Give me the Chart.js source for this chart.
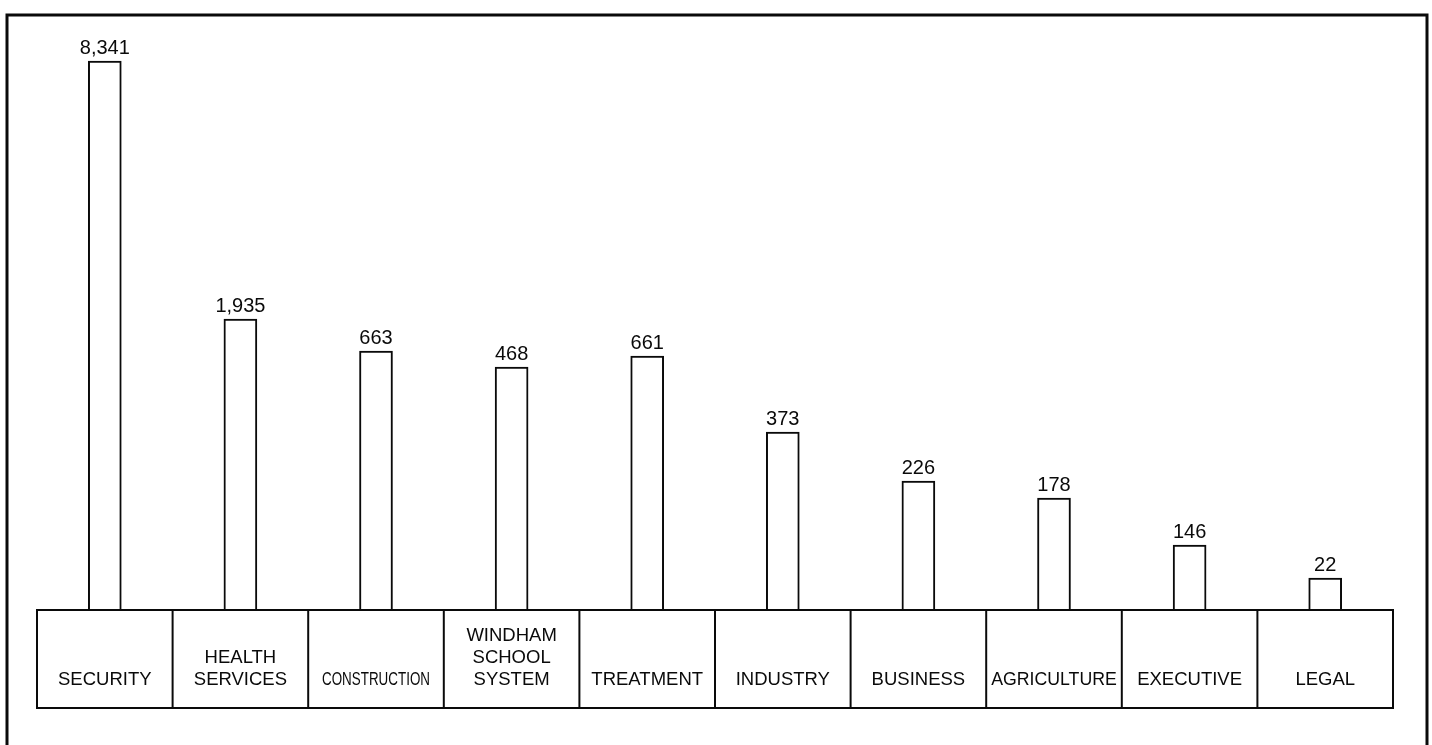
<!DOCTYPE html>
<html lang="en">
<head>
    <meta charset="UTF-8">
    <title>Inmate Job Assignments</title>
    <script src="https://cdn.jsdelivr.net/npm/chart.js"></script>
    <style>
        html, body {
            margin: 0;
            padding: 0;
            background-color: #fff;
        }
        #chartBox {
            width: 1432px;
            height: 745px;
        }
    </style>
</head>
<body>
    <div id="chartBox">
        <canvas id="myChart"></canvas>
    </div>

    <script>
        // categories (line breaks as printed in the boxes)
        const categories = [
            ['SECURITY'],
            ['HEALTH', 'SERVICES'],
            ['CONSTRUCTION'],
            ['WINDHAM', 'SCHOOL', 'SYSTEM'],
            ['TREATMENT'],
            ['INDUSTRY'],
            ['BUSINESS'],
            ['AGRICULTURE'],
            ['EXECUTIVE'],
            ['LEGAL']
        ];
        // printed numbers above each bar
        const valueLabels = ['8,341', '1,935', '663', '468', '661', '373', '226', '178', '146', '22'];
        // bar heights as drawn (the original is not to scale)
        const drawnHeights = [549, 291, 259, 243, 254, 178, 129, 112, 65, 32];

        const ink = '#0a0a0a';
        const font = '"Liberation Sans", Arial, sans-serif';

        // outer frame of the page
        const framePlugin = {
            id: 'frame',
            beforeDraw(chart) {
                const ctx = chart.ctx;
                ctx.save();
                ctx.fillStyle = '#fff';
                ctx.fillRect(0, 0, chart.width, chart.height);
                ctx.strokeStyle = ink;
                ctx.lineWidth = 3;
                ctx.beginPath();
                ctx.moveTo(7, chart.height);
                ctx.lineTo(7, 15);
                ctx.lineTo(1427, 15);
                ctx.lineTo(1427, chart.height);
                ctx.stroke();
                ctx.restore();
            }
        };

        // category boxes under the bars + value labels on top
        const boxesPlugin = {
            id: 'boxes',
            afterDatasetsDraw(chart) {
                const ctx = chart.ctx;
                const x = chart.scales.x;
                const area = chart.chartArea;
                const step = (area.right - area.left) / categories.length;
                const boxTop = area.bottom;
                const boxBottom = area.bottom + 98;

                ctx.save();
                ctx.strokeStyle = ink;
                ctx.lineWidth = 2;
                ctx.strokeRect(area.left, boxTop, area.right - area.left, boxBottom - boxTop);
                for (let i = 1; i < categories.length; i++) {
                    const lx = area.left + step * i;
                    ctx.beginPath();
                    ctx.moveTo(lx, boxTop);
                    ctx.lineTo(lx, boxBottom);
                    ctx.stroke();
                }

                ctx.fillStyle = ink;
                ctx.textAlign = 'center';
                ctx.textBaseline = 'alphabetic';
                ctx.font = '18.5px ' + font;
                categories.forEach((lines, i) => {
                    const cx = x.getPixelForValue(i);
                    for (let j = 0; j < lines.length; j++) {
                        const y = 685 - (lines.length - 1 - j) * 22;
                        // CONSTRUCTION is printed condensed in the original
                        const maxW = lines[j] === 'CONSTRUCTION' ? 108 : step - 10;
                        ctx.fillText(lines[j], cx, y, maxW);
                    }
                });

                // numbers above bars
                ctx.font = '20px ' + font;
                const meta = chart.getDatasetMeta(0);
                meta.data.forEach((bar, i) => {
                    ctx.fillText(valueLabels[i], bar.x, bar.y - 7);
                });
                ctx.restore();
            }
        };

        const ctx = document.getElementById('myChart').getContext('2d');
        const myChart = new Chart(ctx, {
            type: 'bar',
            data: {
                labels: categories,
                datasets: [{
                    data: drawnHeights,
                    backgroundColor: '#fff',
                    borderColor: ink,
                    borderWidth: 2,
                    barThickness: 33
                }]
            },
            options: {
                responsive: true,
                maintainAspectRatio: false,
                animation: false,
                layout: {
                    padding: { left: 37, right: 39, top: 50, bottom: 135 }
                },
                scales: {
                    x: { display: false },
                    y: { display: false, min: 0, max: 560 }
                },
                plugins: {
                    legend: { display: false },
                    tooltip: { enabled: false }
                }
            },
            plugins: [framePlugin, boxesPlugin]
        });
    </script>
</body>
</html>
